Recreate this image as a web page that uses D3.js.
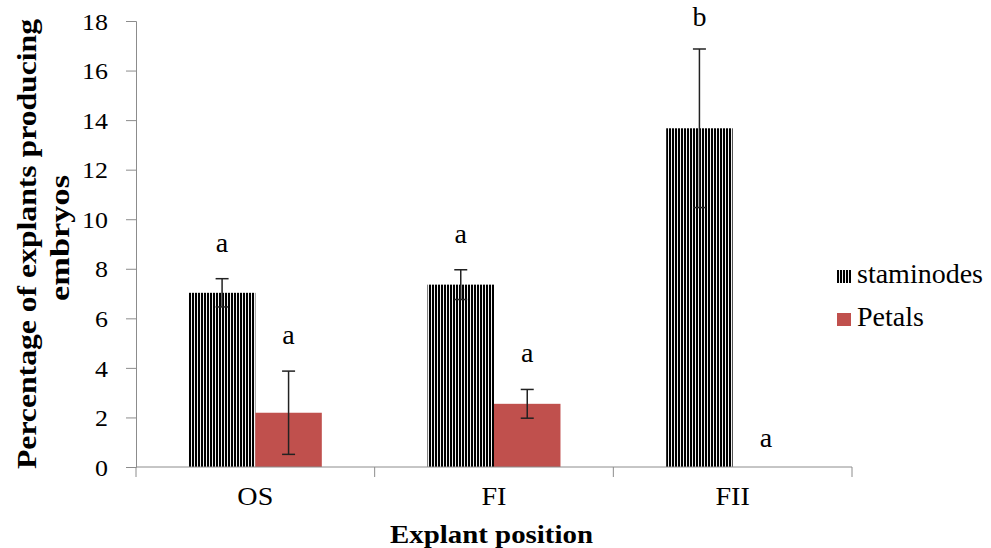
<!DOCTYPE html>
<html><head><meta charset="utf-8">
<script src="https://cdn.jsdelivr.net/npm/d3@7"></script>
<style>body{margin:0;background:#fff;} svg{display:block;} text{font-family:'Liberation Serif','Times New Roman',serif;}</style>
</head><body>
<svg id="c" width="991" height="548"></svg>
<script>
const categories = ["OS", "FI", "FII"];
const seriesNames = ["staminodes", "Petals"];
const staminodes = [7.03, 7.36, 13.67];
const petals = [2.19, 2.55, 0];
const staminodesErr = [0.57, 0.6, 3.2];
const petalsErr = [1.68, 0.58, null];
const staminodesLetters = ["a", "a", "b"];
const petalsLetters = ["a", "a", "a"];
const yTicks = [0, 2, 4, 6, 8, 10, 12, 14, 16, 18];

const svg = d3.select("#c");
const font = "Liberation Serif, Times New Roman, serif";
const mLeft = 136, mRight = 852, mTop = 21, mBottom = 467;

function stretch(sel, f) {
  sel.each(function() {
    const L = this.getComputedTextLength();
    this.setAttribute("textLength", L * f);
    this.setAttribute("lengthAdjust", "spacingAndGlyphs");
  });
}

const defs = svg.append("defs");
const pat = defs.append("pattern").attr("id", "stripes").attr("patternUnits", "userSpaceOnUse")
  .attr("width", 3).attr("height", 10);
pat.append("rect").attr("width", 3).attr("height", 10).attr("fill", "#f2f2f2");
pat.append("rect").attr("width", 2).attr("height", 10).attr("fill", "#000");

const x = d3.scaleBand().domain(categories).range([mLeft, mRight]).paddingInner(0).paddingOuter(0);
const xs = d3.scaleBand().domain(seriesNames).range([0, x.bandwidth()]).paddingInner(0).paddingOuter(0.795);
const y = d3.scaleLinear().domain([0, 18]).range([mBottom, mTop]);

// y axis
const yAxis = svg.append("g").attr("transform", `translate(${mLeft},0)`)
  .call(d3.axisLeft(y).tickValues(yTicks).tickSize(10).tickPadding(18).tickFormat(d3.format("d")));
yAxis.attr("font-family", font).attr("font-size", 24);
yAxis.select(".domain").attr("stroke", "#8c8c8c");
yAxis.selectAll(".tick line").attr("stroke", "#8c8c8c");
yAxis.selectAll("text").attr("fill", "#000").attr("dy", "0.34em");
stretch(yAxis.selectAll("text"), 1.08);

const series = [
  {name: "staminodes", vals: staminodes, err: staminodesErr, letters: staminodesLetters, fill: "url(#stripes)"},
  {name: "Petals", vals: petals, err: petalsErr, letters: petalsLetters, fill: "#C0504D"}
];

series.forEach(s => {
  const g = svg.append("g");
  categories.forEach((c, i) => {
    const bx = x(c) + xs(s.name);
    const w = xs.bandwidth();
    if (s.vals[i] > 0) {
      g.append("rect").attr("x", bx).attr("y", y(s.vals[i])).attr("width", w)
        .attr("height", y(0) - y(s.vals[i])).attr("fill", s.fill);
    }
  });
});

// x axis
const xAxis = svg.append("g").attr("transform", `translate(0,${mBottom})`);
xAxis.append("line").attr("x1", mLeft).attr("x2", mRight).attr("y1", 0).attr("y2", 0).attr("stroke", "#8c8c8c");
const bounds = [mLeft].concat(categories.map(c => x(c) + x.bandwidth()));
bounds.forEach(b => xAxis.append("line").attr("x1", b).attr("x2", b).attr("y1", 0).attr("y2", 10).attr("stroke", "#8c8c8c"));
const xl = xAxis.selectAll("text.cat").data(categories).enter().append("text").attr("class", "cat")
  .attr("x", c => x(c) + x.bandwidth() / 2).attr("y", 38)
  .attr("text-anchor", "middle").attr("font-family", font).attr("font-size", 26).text(c => c);
stretch(xl, 1.08);

// error bars and letters
series.forEach(s => {
  const g = svg.append("g");
  categories.forEach((c, i) => {
    const cx = x(c) + xs(s.name) + xs.bandwidth() / 2;
    const v = s.vals[i], e = s.err[i];
    if (e != null) {
      g.append("line").attr("x1", cx).attr("x2", cx).attr("y1", y(v + e)).attr("y2", y(v - e)).attr("stroke", "#222").attr("stroke-width", 1.5);
      [v + e, v - e].forEach(t => g.append("line").attr("x1", cx - 6.5).attr("x2", cx + 6.5)
        .attr("y1", y(t)).attr("y2", y(t)).attr("stroke", "#222").attr("stroke-width", 1.5));
    }
    const topV = v + (e || 0);
    const ly = Math.max(y(topV) - (e == null ? 20 : 27), 26);
    g.append("text").attr("x", cx).attr("y", ly)
      .attr("text-anchor", "middle").attr("font-family", font).attr("font-size", 28).text(s.letters[i]);
  });
});

// axis titles
svg.append("text").attr("transform", "translate(36,244) rotate(-90)").attr("text-anchor", "middle")
  .attr("font-family", font).attr("font-size", 27).attr("font-weight", "bold")
  .attr("textLength", 450).attr("lengthAdjust", "spacingAndGlyphs").text("Percentage of explants producing");
svg.append("text").attr("transform", "translate(69,238) rotate(-90)").attr("text-anchor", "middle")
  .attr("font-family", font).attr("font-size", 27).attr("font-weight", "bold")
  .attr("textLength", 126).attr("lengthAdjust", "spacingAndGlyphs").text("embryos");
svg.append("text").attr("x", 491.5).attr("y", 543).attr("text-anchor", "middle")
  .attr("font-family", font).attr("font-size", 25).attr("font-weight", "bold")
  .attr("textLength", 203).attr("lengthAdjust", "spacingAndGlyphs").text("Explant position");

// legend
const leg = svg.append("g").attr("transform", "translate(837,270)");
series.forEach((s, i) => {
  leg.append("rect").attr("x", 0).attr("y", i * 43).attr("width", 14).attr("height", 13).attr("fill", s.fill);
  leg.append("text").attr("x", 20).attr("y", i * 43 + 13).attr("font-family", font).attr("font-size", 28).text(s.name);
});
</script>
</body></html>
